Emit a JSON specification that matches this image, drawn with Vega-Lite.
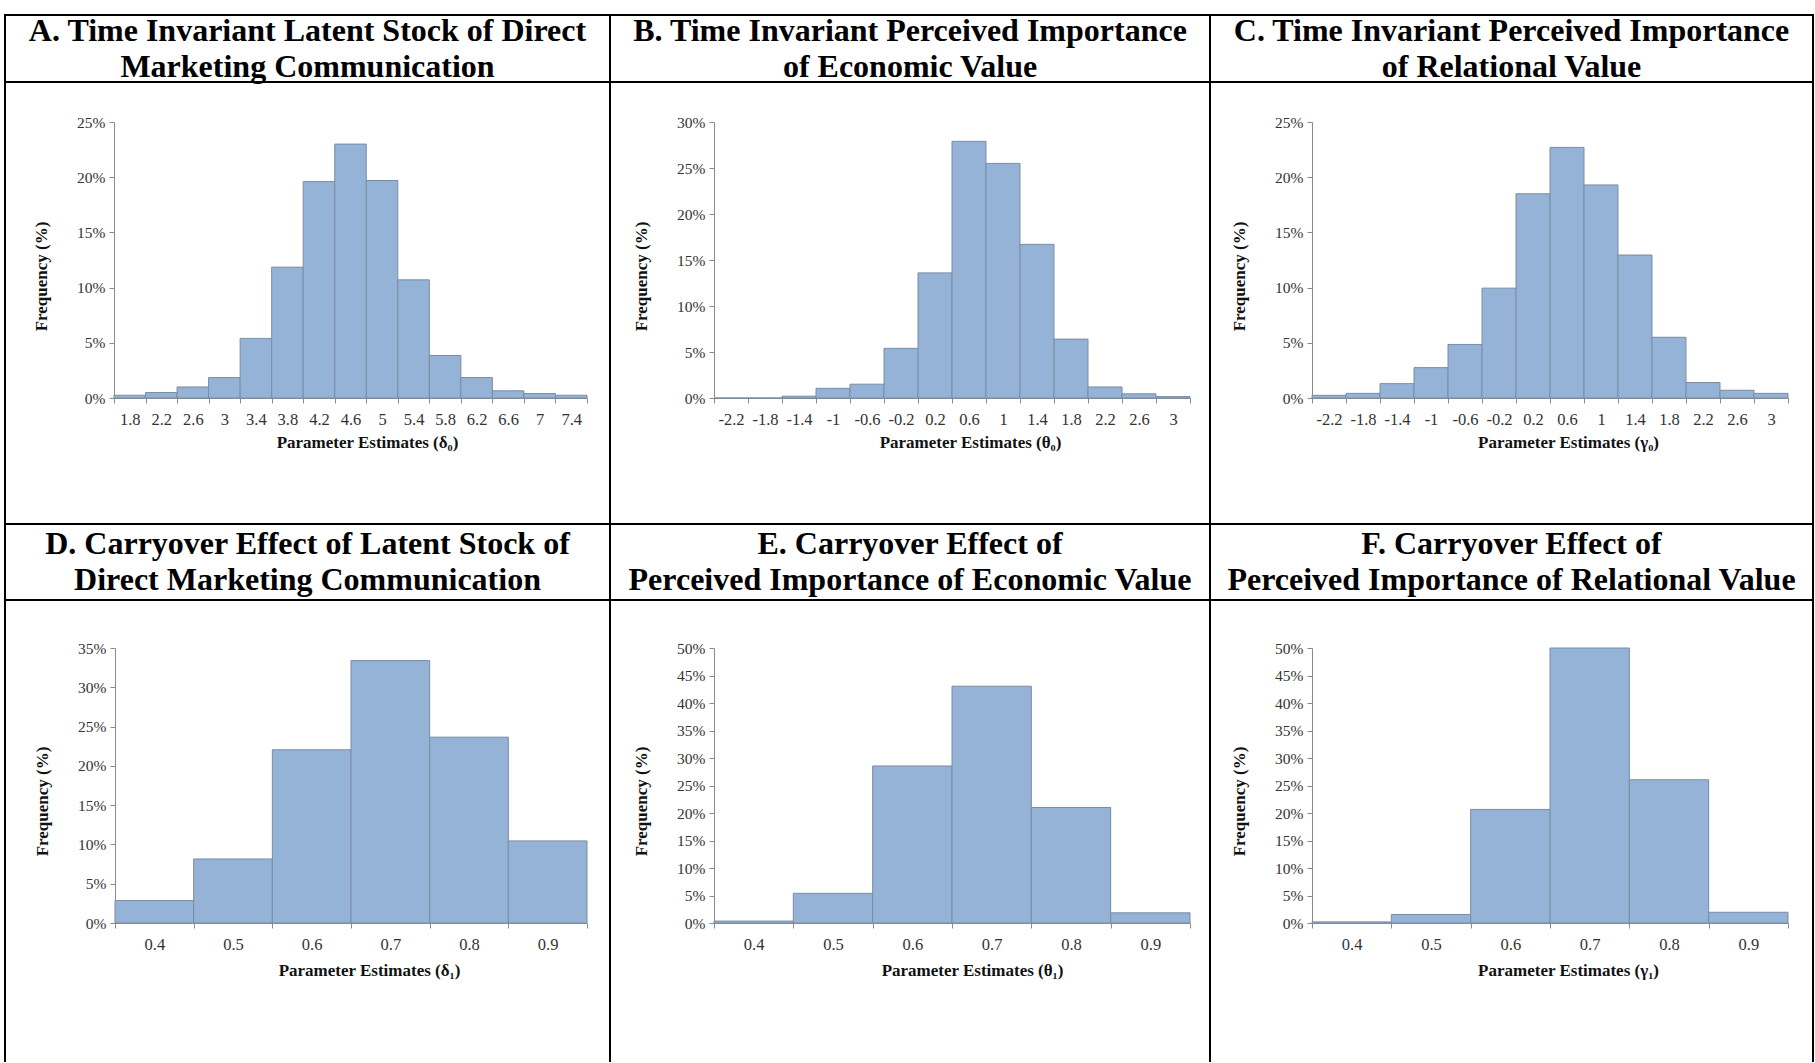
{
  "$schema": "https://vega.github.io/schema/vega-lite/v6.json",
  "background": "white",
  "padding": {"left": 4, "top": 14, "right": 0, "bottom": -4},
  "autosize": {"type": "pad"},
  "spacing": 0,
  "bounds": "flush",
  "align": "each",
  "columns": 3,
  "datasets": {
    "heads": [
      {"panel": "A", "title": "A. Time Invariant Latent Stock of Direct\nMarketing Communication"},
      {"panel": "B", "title": "B. Time Invariant Perceived Importance\nof Economic Value"},
      {"panel": "C", "title": "C. Time Invariant Perceived Importance\nof Relational Value"},
      {"panel": "D", "title": "D. Carryover Effect of Latent Stock of\nDirect Marketing Communication"},
      {"panel": "E", "title": "E. Carryover Effect of\nPerceived Importance of Economic Value"},
      {"panel": "F", "title": "F. Carryover Effect of\nPerceived Importance of Relational Value"}
    ],
    "hist": [
      {"panel": "A", "bin": "1.8", "freq": 0.25},
      {"panel": "A", "bin": "2.2", "freq": 0.5},
      {"panel": "A", "bin": "2.6", "freq": 1.0},
      {"panel": "A", "bin": "3", "freq": 1.85},
      {"panel": "A", "bin": "3.4", "freq": 5.4},
      {"panel": "A", "bin": "3.8", "freq": 11.85},
      {"panel": "A", "bin": "4.2", "freq": 19.6},
      {"panel": "A", "bin": "4.6", "freq": 23.0},
      {"panel": "A", "bin": "5", "freq": 19.7},
      {"panel": "A", "bin": "5.4", "freq": 10.7},
      {"panel": "A", "bin": "5.8", "freq": 3.85},
      {"panel": "A", "bin": "6.2", "freq": 1.85},
      {"panel": "A", "bin": "6.6", "freq": 0.65},
      {"panel": "A", "bin": "7", "freq": 0.4},
      {"panel": "A", "bin": "7.4", "freq": 0.25},
      {"panel": "B", "bin": "-2.2", "freq": 0},
      {"panel": "B", "bin": "-1.8", "freq": 0},
      {"panel": "B", "bin": "-1.4", "freq": 0.2},
      {"panel": "B", "bin": "-1", "freq": 1.05},
      {"panel": "B", "bin": "-0.6", "freq": 1.5},
      {"panel": "B", "bin": "-0.2", "freq": 5.4},
      {"panel": "B", "bin": "0.2", "freq": 13.6},
      {"panel": "B", "bin": "0.6", "freq": 27.9},
      {"panel": "B", "bin": "1", "freq": 25.5},
      {"panel": "B", "bin": "1.4", "freq": 16.7},
      {"panel": "B", "bin": "1.8", "freq": 6.4},
      {"panel": "B", "bin": "2.2", "freq": 1.2},
      {"panel": "B", "bin": "2.6", "freq": 0.45},
      {"panel": "B", "bin": "3", "freq": 0.15},
      {"panel": "C", "bin": "-2.2", "freq": 0.24},
      {"panel": "C", "bin": "-1.8", "freq": 0.42},
      {"panel": "C", "bin": "-1.4", "freq": 1.3},
      {"panel": "C", "bin": "-1", "freq": 2.75},
      {"panel": "C", "bin": "-0.6", "freq": 4.85},
      {"panel": "C", "bin": "-0.2", "freq": 9.95},
      {"panel": "C", "bin": "0.2", "freq": 18.5},
      {"panel": "C", "bin": "0.6", "freq": 22.7},
      {"panel": "C", "bin": "1", "freq": 19.3},
      {"panel": "C", "bin": "1.4", "freq": 12.95},
      {"panel": "C", "bin": "1.8", "freq": 5.5},
      {"panel": "C", "bin": "2.2", "freq": 1.4},
      {"panel": "C", "bin": "2.6", "freq": 0.7},
      {"panel": "C", "bin": "3", "freq": 0.42},
      {"panel": "D", "bin": "0.4", "freq": 2.85},
      {"panel": "D", "bin": "0.5", "freq": 8.15},
      {"panel": "D", "bin": "0.6", "freq": 22.05},
      {"panel": "D", "bin": "0.7", "freq": 33.4},
      {"panel": "D", "bin": "0.8", "freq": 23.65},
      {"panel": "D", "bin": "0.9", "freq": 10.45},
      {"panel": "E", "bin": "0.4", "freq": 0.35},
      {"panel": "E", "bin": "0.5", "freq": 5.4},
      {"panel": "E", "bin": "0.6", "freq": 28.55},
      {"panel": "E", "bin": "0.7", "freq": 43.05},
      {"panel": "E", "bin": "0.8", "freq": 21.0},
      {"panel": "E", "bin": "0.9", "freq": 1.85},
      {"panel": "F", "bin": "0.4", "freq": 0.2},
      {"panel": "F", "bin": "0.5", "freq": 1.55},
      {"panel": "F", "bin": "0.6", "freq": 20.65},
      {"panel": "F", "bin": "0.7", "freq": 50.0},
      {"panel": "F", "bin": "0.8", "freq": 26.05},
      {"panel": "F", "bin": "0.9", "freq": 1.95}
    ]
  },
  "concat": [
    {"width": 605, "height": 67, "data": {"name": "heads"}, "transform": [{"filter": "datum.panel == 'A'"}],
     "layer": [
       {"mark": {"type": "rect", "filled": false, "stroke": "black", "strokeWidth": 2}, "encoding": {}},
       {"mark": {"type": "text", "font": "Liberation Serif", "fontWeight": "bold", "fontSize": 32, "lineBreak": "\n", "lineHeight": 36, "dy": -18, "align": "center", "baseline": "middle", "color": "black"},
        "encoding": {"text": {"field": "title"}}}
     ]},
    {"width": 600, "height": 67, "data": {"name": "heads"}, "transform": [{"filter": "datum.panel == 'B'"}],
     "layer": [
       {"mark": {"type": "rect", "filled": false, "stroke": "black", "strokeWidth": 2}, "encoding": {}},
       {"mark": {"type": "text", "font": "Liberation Serif", "fontWeight": "bold", "fontSize": 32, "lineBreak": "\n", "lineHeight": 36, "dy": -18, "align": "center", "baseline": "middle", "color": "black"},
        "encoding": {"text": {"field": "title"}}}
     ]},
    {"width": 603, "height": 67, "data": {"name": "heads"}, "transform": [{"filter": "datum.panel == 'C'"}],
     "layer": [
       {"mark": {"type": "rect", "filled": false, "stroke": "black", "strokeWidth": 2}, "encoding": {}},
       {"mark": {"type": "text", "font": "Liberation Serif", "fontWeight": "bold", "fontSize": 32, "lineBreak": "\n", "lineHeight": 36, "dy": -18, "align": "center", "baseline": "middle", "color": "black"},
        "encoding": {"text": {"field": "title"}}}
     ]},
    {"width": 605, "height": 442, "data": {"name": "hist"}, "transform": [{"filter": "datum.panel == 'A'"}],
     "mark": {"type": "bar", "fill": "#95b3d7", "stroke": "#7b8ca2", "strokeWidth": 1},
     "encoding": {
       "x": {"field": "bin", "type": "ordinal", "sort": null,
             "scale": {"type": "band", "paddingInner": 0, "paddingOuter": 0, "range": [109, 582]},
             "axis": {"orient": "bottom", "offset": -126, "tickBand": "extent", "labelAngle": 0, "title": "Parameter Estimates (δ₀)", "titleX": 362, "titleY": 44, "titleBaseline": "middle"}},
       "y": {"field": "freq", "type": "quantitative",
             "scale": {"domain": [0, 25], "nice": false, "range": [316, 40]},
             "axis": {"orient": "left", "offset": -109, "values": [0, 5, 10, 15, 20, 25], "labelExpr": "datum.value + '%'", "title": "Frequency (%)", "titleX": -73, "titleY": 194, "titleBaseline": "middle", "titleAngle": -90}}
     }},
    {"width": 600, "height": 442, "data": {"name": "hist"}, "transform": [{"filter": "datum.panel == 'B'"}],
     "mark": {"type": "bar", "fill": "#95b3d7", "stroke": "#7b8ca2", "strokeWidth": 1},
     "encoding": {
       "x": {"field": "bin", "type": "ordinal", "sort": null,
             "scale": {"type": "band", "paddingInner": 0, "paddingOuter": 0, "range": [104, 580]},
             "axis": {"orient": "bottom", "offset": -126, "tickBand": "extent", "labelAngle": 0, "title": "Parameter Estimates (θ₀)", "titleX": 360, "titleY": 44, "titleBaseline": "middle"}},
       "y": {"field": "freq", "type": "quantitative",
             "scale": {"domain": [0, 30], "nice": false, "range": [316, 40]},
             "axis": {"orient": "left", "offset": -104, "values": [0, 5, 10, 15, 20, 25, 30], "labelExpr": "datum.value + '%'", "title": "Frequency (%)", "titleX": -73, "titleY": 194, "titleBaseline": "middle", "titleAngle": -90}}
     }},
    {"width": 603, "height": 442, "data": {"name": "hist"}, "transform": [{"filter": "datum.panel == 'C'"}],
     "mark": {"type": "bar", "fill": "#95b3d7", "stroke": "#7b8ca2", "strokeWidth": 1},
     "encoding": {
       "x": {"field": "bin", "type": "ordinal", "sort": null,
             "scale": {"type": "band", "paddingInner": 0, "paddingOuter": 0, "range": [102, 578]},
             "axis": {"orient": "bottom", "offset": -126, "tickBand": "extent", "labelAngle": 0, "title": "Parameter Estimates (γ₀)", "titleX": 358, "titleY": 44, "titleBaseline": "middle"}},
       "y": {"field": "freq", "type": "quantitative",
             "scale": {"domain": [0, 25], "nice": false, "range": [316, 40]},
             "axis": {"orient": "left", "offset": -102, "values": [0, 5, 10, 15, 20, 25], "labelExpr": "datum.value + '%'", "title": "Frequency (%)", "titleX": -73, "titleY": 194, "titleBaseline": "middle", "titleAngle": -90}}
     }},
    {"width": 605, "height": 76, "data": {"name": "heads"}, "transform": [{"filter": "datum.panel == 'D'"}],
     "layer": [
       {"mark": {"type": "rect", "filled": false, "stroke": "black", "strokeWidth": 2}, "encoding": {}},
       {"mark": {"type": "text", "font": "Liberation Serif", "fontWeight": "bold", "fontSize": 32, "lineBreak": "\n", "lineHeight": 36, "dy": -18, "align": "center", "baseline": "middle", "color": "black"},
        "encoding": {"text": {"field": "title"}}}
     ]},
    {"width": 600, "height": 76, "data": {"name": "heads"}, "transform": [{"filter": "datum.panel == 'E'"}],
     "layer": [
       {"mark": {"type": "rect", "filled": false, "stroke": "black", "strokeWidth": 2}, "encoding": {}},
       {"mark": {"type": "text", "font": "Liberation Serif", "fontWeight": "bold", "fontSize": 32, "lineBreak": "\n", "lineHeight": 36, "dy": -18, "align": "center", "baseline": "middle", "color": "black"},
        "encoding": {"text": {"field": "title"}}}
     ]},
    {"width": 603, "height": 76, "data": {"name": "heads"}, "transform": [{"filter": "datum.panel == 'F'"}],
     "layer": [
       {"mark": {"type": "rect", "filled": false, "stroke": "black", "strokeWidth": 2}, "encoding": {}},
       {"mark": {"type": "text", "font": "Liberation Serif", "fontWeight": "bold", "fontSize": 32, "lineBreak": "\n", "lineHeight": 36, "dy": -18, "align": "center", "baseline": "middle", "color": "black"},
        "encoding": {"text": {"field": "title"}}}
     ]},
    {"width": 605, "height": 465, "data": {"name": "hist"}, "transform": [{"filter": "datum.panel == 'D'"}],
     "mark": {"type": "bar", "fill": "#95b3d7", "stroke": "#7b8ca2", "strokeWidth": 1},
     "encoding": {
       "x": {"field": "bin", "type": "ordinal", "sort": null,
             "scale": {"type": "band", "paddingInner": 0, "paddingOuter": 0, "range": [110, 582]},
             "axis": {"orient": "bottom", "offset": -142, "tickBand": "extent", "labelAngle": 0, "title": "Parameter Estimates (δ₁)", "titleX": 364, "titleY": 47, "titleBaseline": "middle"}},
       "y": {"field": "freq", "type": "quantitative",
             "scale": {"domain": [0, 35], "nice": false, "range": [323, 48]},
             "axis": {"orient": "left", "offset": -110, "values": [0, 5, 10, 15, 20, 25, 30, 35], "labelExpr": "datum.value + '%'", "title": "Frequency (%)", "titleX": -73, "titleY": 201, "titleBaseline": "middle", "titleAngle": -90}}
     }},
    {"width": 600, "height": 465, "data": {"name": "hist"}, "transform": [{"filter": "datum.panel == 'E'"}],
     "mark": {"type": "bar", "fill": "#95b3d7", "stroke": "#7b8ca2", "strokeWidth": 1},
     "encoding": {
       "x": {"field": "bin", "type": "ordinal", "sort": null,
             "scale": {"type": "band", "paddingInner": 0, "paddingOuter": 0, "range": [104, 580]},
             "axis": {"orient": "bottom", "offset": -142, "tickBand": "extent", "labelAngle": 0, "title": "Parameter Estimates (θ₁)", "titleX": 362, "titleY": 47, "titleBaseline": "middle"}},
       "y": {"field": "freq", "type": "quantitative",
             "scale": {"domain": [0, 50], "nice": false, "range": [323, 48]},
             "axis": {"orient": "left", "offset": -104, "values": [0, 5, 10, 15, 20, 25, 30, 35, 40, 45, 50], "labelExpr": "datum.value + '%'", "title": "Frequency (%)", "titleX": -73, "titleY": 201, "titleBaseline": "middle", "titleAngle": -90}}
     }},
    {"width": 603, "height": 465, "data": {"name": "hist"}, "transform": [{"filter": "datum.panel == 'F'"}],
     "mark": {"type": "bar", "fill": "#95b3d7", "stroke": "#7b8ca2", "strokeWidth": 1},
     "encoding": {
       "x": {"field": "bin", "type": "ordinal", "sort": null,
             "scale": {"type": "band", "paddingInner": 0, "paddingOuter": 0, "range": [102, 578]},
             "axis": {"orient": "bottom", "offset": -142, "tickBand": "extent", "labelAngle": 0, "title": "Parameter Estimates (γ₁)", "titleX": 358, "titleY": 47, "titleBaseline": "middle"}},
       "y": {"field": "freq", "type": "quantitative",
             "scale": {"domain": [0, 50], "nice": false, "range": [323, 48]},
             "axis": {"orient": "left", "offset": -102, "values": [0, 5, 10, 15, 20, 25, 30, 35, 40, 45, 50], "labelExpr": "datum.value + '%'", "title": "Frequency (%)", "titleX": -73, "titleY": 201, "titleBaseline": "middle", "titleAngle": -90}}
     }}
  ],
  "config": {
    "view": {"stroke": "black", "strokeWidth": 2},
    "axis": {
      "grid": false,
      "labelFont": "Liberation Serif", "labelFontSize": 15.5, "labelColor": "#333",
      "titleFont": "Liberation Serif", "titleFontSize": 17, "titleFontWeight": "bold", "titleColor": "#111",
      "domainColor": "#8a8a8a", "tickColor": "#8a8a8a", "tickSize": 5, "domainWidth": 1, "tickWidth": 1,
      "labelPadding": 4
    },
    "axisX": {"labelFontSize": 16.5, "labelPadding": 8}
  }
}
